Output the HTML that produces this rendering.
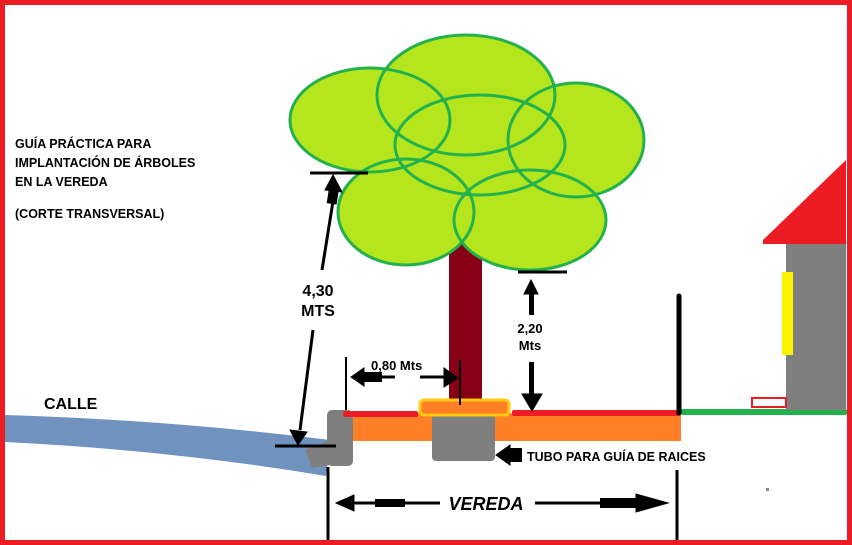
<!DOCTYPE html>
<html><head><meta charset="utf-8"><style>
html,body{margin:0;padding:0;background:#fff}
svg{display:block}
text{font-family:"Liberation Sans",sans-serif;font-weight:bold;fill:#000}
</style></head><body>
<svg width="852" height="545" viewBox="0 0 852 545" xmlns="http://www.w3.org/2000/svg">
<rect x="0" y="0" width="852" height="545" fill="#fff"/>
<!-- street -->
<path d="M5,415 Q170,420 330,440 L326,476 Q170,450 5,442 Z" fill="#7092be"/>
<!-- sidewalk -->
<rect x="347" y="413" width="334" height="28" fill="#ff7f27"/>
<rect x="327" y="410" width="26" height="56" rx="5" fill="#7f7f7f"/>
<path d="M305,450 L330,440 L330,465 L312,468 Z" fill="#7f7f7f"/>
<rect x="343" y="411" width="75" height="6" rx="2" fill="#ed1c24"/>
<rect x="512" y="410" width="168" height="6" rx="2" fill="#ed1c24"/>
<!-- trunk -->
<rect x="449" y="240" width="33" height="160" fill="#880015"/>
<!-- tube -->
<rect x="432" y="413" width="63" height="48" rx="4" fill="#7f7f7f"/>
<rect x="420" y="400" width="89" height="15" rx="4" fill="#ff7f27" stroke="#ffc90e" stroke-width="3"/>
<!-- canopy -->
<g fill="#b5e61d">
<ellipse cx="370" cy="120" rx="80" ry="52"/>
<ellipse cx="466" cy="95" rx="89" ry="60"/>
<ellipse cx="576" cy="140" rx="68" ry="57"/>
<ellipse cx="480" cy="145" rx="85" ry="50"/>
<ellipse cx="406" cy="212" rx="68" ry="53"/>
<ellipse cx="530" cy="220" rx="76" ry="50"/>
</g>
<g fill="none" stroke="#22b14c" stroke-width="3">
<ellipse cx="370" cy="120" rx="80" ry="52"/>
<ellipse cx="466" cy="95" rx="89" ry="60"/>
<ellipse cx="576" cy="140" rx="68" ry="57"/>
<ellipse cx="480" cy="145" rx="85" ry="50"/>
<ellipse cx="406" cy="212" rx="68" ry="53"/>
<ellipse cx="530" cy="220" rx="76" ry="50"/>
</g>
<!-- house -->
<rect x="680" y="409" width="168" height="6" rx="3" fill="#22b14c"/>
<rect x="786" y="242" width="60" height="168" fill="#7f7f7f"/>
<polygon points="763,240 846,160 846,244 763,244" fill="#ed1c24"/>
<rect x="782" y="272" width="11" height="83" fill="#fff200"/>
<rect x="752" y="398" width="34" height="9" fill="none" stroke="#ed1c24" stroke-width="2"/>
<line x1="679" y1="296" x2="679" y2="413" stroke="#000" stroke-width="5" stroke-linecap="round"/>
<!-- 4,30 dims -->
<g stroke="#000" fill="#000">
<line x1="310" y1="173" x2="368" y2="173" stroke-width="3"/>
<line x1="322" y1="270" x2="334" y2="195" stroke-width="3"/>
<polygon points="333,175 325,190 342,192"/>
<rect x="328" y="186" width="10" height="18" transform="rotate(9 333 195)" stroke="none"/>
<line x1="313" y1="330" x2="300" y2="430" stroke-width="3"/>
<polygon points="298,445 290,430 307,432"/>
<line x1="275" y1="446" x2="336" y2="446" stroke-width="3"/>
<!-- 0,80 -->
<line x1="346" y1="357" x2="346" y2="410" stroke-width="2"/>
<polygon points="351,377 364,368 364,386"/>
<rect x="362" y="372" width="20" height="10" stroke="none"/>
<line x1="380" y1="377" x2="395" y2="377" stroke-width="3"/>
<line x1="420" y1="377" x2="445" y2="377" stroke-width="3"/>
<polygon points="458,378 444,368 444,387"/>
<line x1="460" y1="360" x2="460" y2="405" stroke-width="2"/>
<!-- 2,20 -->
<line x1="518" y1="272" x2="567" y2="272" stroke-width="3"/>
<polygon points="531,280 524,294 538,294"/>
<rect x="529" y="292" width="5" height="23" stroke="none"/>
<rect x="529" y="362" width="5" height="35" stroke="none"/>
<polygon points="532,411 522,394 542,394"/>
<!-- tube arrow -->
<polygon points="496,455 510,445 510,465"/>
<rect x="508" y="448" width="14" height="14" stroke="none"/>
<!-- vereda -->
<line x1="328" y1="467" x2="328" y2="540" stroke-width="3"/>
<line x1="677" y1="470" x2="677" y2="540" stroke-width="3"/>
<polygon points="336,503 354,495 354,511"/>
<line x1="352" y1="503" x2="440" y2="503" stroke-width="3"/>
<rect x="375" y="499" width="30" height="8" stroke="none"/>
<line x1="535" y1="503" x2="650" y2="503" stroke-width="3"/>
<rect x="600" y="498" width="40" height="10" stroke="none"/>
<polygon points="668,503 636,494 636,512"/>
</g>
<rect x="766" y="488" width="3" height="3" fill="#888"/>
<!-- text -->
<text x="15" y="148" font-size="12.5">GUÍA PRÁCTICA PARA</text>
<text x="15" y="167" font-size="12.5">IMPLANTACIÓN DE ÁRBOLES</text>
<text x="15" y="186" font-size="12.5">EN LA VEREDA</text>
<text x="15" y="218" font-size="12.5">(CORTE TRANSVERSAL)</text>
<text x="44" y="409" font-size="16">CALLE</text>
<text x="318" y="296" font-size="16" text-anchor="middle">4,30</text>
<text x="318" y="316" font-size="16" text-anchor="middle">MTS</text>
<text x="371" y="370" font-size="13">0,80 Mts</text>
<text x="530" y="333" font-size="13" text-anchor="middle">2,20</text>
<text x="530" y="350" font-size="13" text-anchor="middle">Mts</text>
<text x="527" y="461" font-size="12.5">TUBO PARA GUÍA DE RAICES</text>
<text x="486" y="510" font-size="18" font-weight="normal" font-style="italic" text-anchor="middle">VEREDA</text>
<!-- border -->
<rect x="2.5" y="2.5" width="847" height="540" fill="none" stroke="#ed1c24" stroke-width="5"/>
</svg>
</body></html>
